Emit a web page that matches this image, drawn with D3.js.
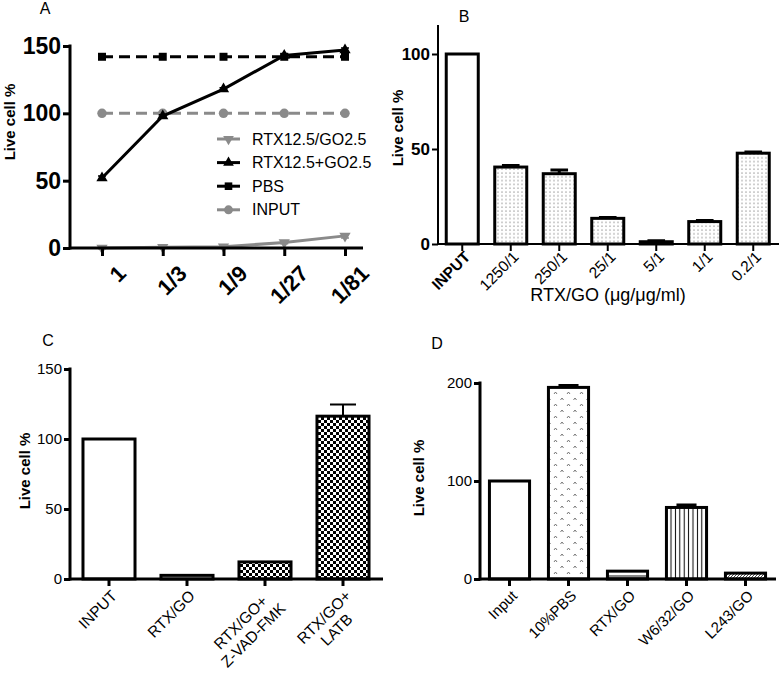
<!DOCTYPE html>
<html><head><meta charset="utf-8">
<script src="https://cdn.jsdelivr.net/npm/d3@7"></script>
<style>body{margin:0;background:#fff} text{font-family:"Liberation Sans",Arial,Helvetica,sans-serif;fill:#000}</style>
</head><body><svg id="c" width="779" height="674"></svg>
<script>
// ---------- Panel A data ----------
const aDilutions = ["1","1/3","1/9","1/27","1/81"];
const aSeriesNames = ["RTX12.5/GO2.5","RTX12.5+GO2.5","PBS","INPUT"];
const aRtxSlashGo = [0,0.5,1,4,9];
const aRtxSlashGoErr = [0.5,0.3,0.5,0.8,1.5];
const aRtxPlusGo = [52,98,118,143,147];
const aRtxPlusGoErr = [1.5,1,1,1,1.5];
const aPbs = [142,142,142,142,142];
const aInput = [100,100,100,100,100];
const aYTicks = [0,50,100,150];

// ---------- Panel B data ----------
const bCategories = ["INPUT","1250/1","250/1","25/1","5/1","1/1","0.2/1"];
const bValues = [100,40.5,37,13.5,1.2,11.8,47.8];
const bErrors = [0,0.8,2,0.4,0.5,0.6,0.6];
const bYTicks = [0,50,100];

// ---------- Panel C data ----------
const cCategories = [["INPUT"],["RTX/GO"],["RTX/GO+","Z-VAD-FMK"],["RTX/GO+","LATB"]];
const cValues = [100,2.6,12.2,116.3];
const cErrors = [0,0,0,8.4];
const cYTicks = [0,50,100,150];

// ---------- Panel D data ----------
const dCategories = ["Input","10%PBS","RTX/GO","W6/32/GO","L243/GO"];
const dValues = [100,195.5,8,73,6];
const dErrors = [0,2,0,2.5,0];
const dYTicks = [0,100,200];

const svg = d3.select("#c");
const defs = svg.append("defs");

// patterns
const pDots = defs.append("pattern").attr("id","dots").attr("patternUnits","userSpaceOnUse").attr("width",4).attr("height",3.8);
pDots.append("rect").attr("width",4).attr("height",3.8).attr("fill","#fff");
pDots.append("rect").attr("x",1.5).attr("y",1.5).attr("width",1).attr("height",1).attr("fill","#555");

const pChk = defs.append("pattern").attr("id","checker").attr("patternUnits","userSpaceOnUse").attr("width",6).attr("height",6);
pChk.append("rect").attr("width",6).attr("height",6).attr("fill","#fff");
pChk.append("rect").attr("width",3).attr("height",3).attr("fill","#000");
pChk.append("rect").attr("x",3).attr("y",3).attr("width",3).attr("height",3).attr("fill","#000");

const pCaret = defs.append("pattern").attr("id","caret").attr("patternUnits","userSpaceOnUse").attr("width",13).attr("height",12);
pCaret.append("rect").attr("width",13).attr("height",12).attr("fill","#fff");
pCaret.append("path").attr("d","M1.5,4 L3,2 L4.5,4 M8,10 L9.5,8 L11,10").attr("stroke","#666").attr("stroke-width",0.9).attr("fill","none");

const pVert = defs.append("pattern").attr("id","vlines").attr("patternUnits","userSpaceOnUse").attr("width",4.4).attr("height",4);
pVert.append("rect").attr("width",4.4).attr("height",4).attr("fill","#fff");
pVert.append("rect").attr("x",1.7).attr("width",1).attr("height",4).attr("fill","#000");

const pDiag = defs.append("pattern").attr("id","diag").attr("patternUnits","userSpaceOnUse").attr("width",3).attr("height",3);
pDiag.append("rect").attr("width",3).attr("height",3).attr("fill","#fff");
pDiag.append("path").attr("d","M0,3 L3,0 M-1,1 L1,-1 M2,4 L4,2").attr("stroke","#333").attr("stroke-width",0.9);

const gGrad = defs.append("linearGradient").attr("id","halfgray").attr("x1",0).attr("y1",0).attr("x2",0).attr("y2",1);
gGrad.append("stop").attr("offset","0%").attr("stop-color","#fff");
gGrad.append("stop").attr("offset","45%").attr("stop-color","#fff");
gGrad.append("stop").attr("offset","55%").attr("stop-color","#888");
gGrad.append("stop").attr("offset","100%").attr("stop-color","#888");

function styleAxis(g, width, fontSize, weight){
  g.selectAll(".domain").remove();
  g.selectAll(".tick line").attr("stroke","#000").attr("stroke-width",width);
  g.selectAll(".tick text").attr("font-size",fontSize).attr("font-weight",weight).attr("fill","#000");
}

function yLabel(x, y, size){
  svg.append("text").attr("transform",`translate(${x},${y}) rotate(-90)`)
    .attr("text-anchor","middle").attr("dy","0.35em").attr("font-size",size).attr("font-weight","bold").text("Live cell %");
}
function title(x,y,t){
  svg.append("text").attr("x",x).attr("y",y).attr("text-anchor","middle").attr("dy","0.35em").attr("font-size",16).text(t);
}

// ================= Panel A =================
{
  const x0 = 70, x1 = 363, yb = 248;
  const y = d3.scaleLinear().domain([0,150]).range([248,46]);
  const x = d3.scalePoint().domain(aDilutions).range([102,345]);
  const g = svg.append("g");
  const lineGen = d3.line().x((d,i)=>x(aDilutions[i])).y(d=>y(d));
  const series = [
    {name:aSeriesNames[3], vals:aInput, err:null, color:"#8a8a8a", dash:"11,6", sym:d3.symbolCircle, size:70, rot:0},
    {name:aSeriesNames[2], vals:aPbs, err:null, color:"#000", dash:"11,6", sym:d3.symbolSquare, size:64, rot:0},
    {name:aSeriesNames[0], vals:aRtxSlashGo, err:aRtxSlashGoErr, color:"#8a8a8a", dash:null, sym:d3.symbolTriangle, size:55, rot:180},
    {name:aSeriesNames[1], vals:aRtxPlusGo, err:aRtxPlusGoErr, color:"#000", dash:null, sym:d3.symbolTriangle, size:55, rot:0}
  ];
  series.forEach(s=>{
    g.append("path").datum(s.vals).attr("d",lineGen).attr("fill","none").attr("stroke",s.color)
      .attr("stroke-width",3).attr("stroke-dasharray",s.dash);
    if(s.err){
      g.selectAll(null).data(s.vals).enter().append("path")
        .attr("d",(d,i)=>{const cx=x(aDilutions[i]);return `M${cx},${y(d+s.err[i])}V${y(d-s.err[i])}M${cx-4},${y(d+s.err[i])}H${cx+4}M${cx-4},${y(d-s.err[i])}H${cx+4}`;})
        .attr("stroke",s.color).attr("stroke-width",1.5);
    }
    g.selectAll(null).data(s.vals).enter().append("path")
      .attr("d",d3.symbol().type(s.sym).size(s.size))
      .attr("transform",(d,i)=>`translate(${x(aDilutions[i])},${y(d)}) rotate(${s.rot})`)
      .attr("fill",s.color);
  });
  // axes
  const ya = g.append("g").attr("transform",`translate(${x0},0)`).call(d3.axisLeft(y).tickValues(aYTicks).tickSize(7).tickPadding(2));
  styleAxis(ya,3,23,"bold");
  const xa = g.append("g").attr("transform",`translate(0,${yb})`).call(d3.axisBottom(x).tickSize(8));
  styleAxis(xa,3,22,"bold");
  xa.selectAll(".tick text").attr("text-anchor","end").attr("transform","translate(6,8) rotate(-45)").attr("dy","0.71em");
  g.append("line").attr("x1",x0).attr("x2",x0).attr("y1",y(150)-1.5).attr("y2",yb+1.5).attr("stroke","#000").attr("stroke-width",3);
  g.append("line").attr("x1",x0).attr("x2",x1).attr("y1",yb).attr("y2",yb).attr("stroke","#000").attr("stroke-width",3);
  // legend
  const legOrder = [series[2],series[3],series[1],series[0]];
  legOrder.forEach((s,i)=>{
    const ly = 139 + i*23.6;
    g.append("line").attr("x1",217).attr("x2",240).attr("y1",ly).attr("y2",ly).attr("stroke",s.color).attr("stroke-width",3);
    g.append("path").attr("d",d3.symbol().type(s.sym).size(s.size*0.9)).attr("transform",`translate(228.5,${ly}) rotate(${s.rot})`).attr("fill",s.color);
    g.append("text").attr("x",252).attr("y",ly).attr("dy","0.35em").attr("font-size",16).text(s.name);
  });
  yLabel(10,122,15);
  title(45,8,"A");
}

// generic bar panel
function barPanel(cfg){
  const g = svg.append("g");
  const y = d3.scaleLinear().domain(cfg.yDomain).range(cfg.yRange);
  const x = d3.scaleBand().domain(cfg.cats.map((c,i)=>i)).range(cfg.xRange).paddingInner(cfg.pad).paddingOuter(cfg.pad/2);
  g.selectAll(null).data(cfg.vals).enter().append("rect")
    .attr("x",(d,i)=>x(i)).attr("width",x.bandwidth())
    .attr("y",d=>y(d)).attr("height",d=>y(0)-y(d))
    .attr("fill",(d,i)=>cfg.fills[i]).attr("stroke","#000").attr("stroke-width",cfg.barStroke);
  // error bars
  cfg.vals.forEach((d,idx)=>{
    if(!(cfg.errs[idx]>0)) return;
    const cx = x(idx)+x.bandwidth()/2, w = x.bandwidth()*cfg.capFrac/2;
    const top = y(d+cfg.errs[idx]);
    g.append("path").attr("d",`M${cx},${y(d)}V${top}M${cx-w},${top}H${cx+w}`)
      .attr("stroke","#000").attr("stroke-width",cfg.errStroke).attr("fill","none");
  });
  // y axis
  const ya = g.append("g").attr("transform",`translate(${cfg.xRange[0]},0)`).call(d3.axisLeft(y).tickValues(cfg.yTicks).tickSize(6).tickPadding(2));
  styleAxis(ya,cfg.axisStroke,cfg.yFont,cfg.yWeight);
  g.append("line").attr("x1",cfg.xRange[0]).attr("x2",cfg.xRange[0]).attr("y1",cfg.yTop).attr("y2",y(0)+cfg.axisStroke/2).attr("stroke","#000").attr("stroke-width",cfg.axisStroke);
  g.append("line").attr("x1",cfg.xRange[0]).attr("x2",cfg.xEnd).attr("y1",y(0)).attr("y2",y(0)).attr("stroke","#000").attr("stroke-width",cfg.axisStroke);
  // x ticks
  g.selectAll(null).data(cfg.cats).enter().append("line")
    .attr("x1",(d,i)=>x(i)+x.bandwidth()/2).attr("x2",(d,i)=>x(i)+x.bandwidth()/2)
    .attr("y1",y(0)).attr("y2",y(0)+cfg.xTick).attr("stroke","#000").attr("stroke-width",cfg.axisStroke);
  // x labels
  cfg.cats.forEach((c,i)=>{
    const lines = Array.isArray(c)?c:[c];
    const cx = x(i)+x.bandwidth()/2;
    const t = g.append("g").attr("transform",`translate(${cx+cfg.lblDx},${y(0)+cfg.lblDy}) rotate(-45)`);
    const txt = t.append("text").attr("font-size",cfg.xFont).attr("font-weight",cfg.xWeight?cfg.xWeight(i):"normal");
    if(lines.length===1){
      txt.attr("text-anchor","end").attr("dy","0.35em").text(lines[0]);
    } else {
      const spans = lines.map((l,k)=>txt.append("tspan").attr("x",0).attr("y",k*cfg.xFont*1.15).attr("dy","0.35em").text(l));
      const widths = spans.map(s=>s.node().getComputedTextLength());
      const wmax = d3.max(widths);
      txt.attr("text-anchor","middle");
      spans.forEach(s=>s.attr("x",-wmax/2));
    }
  });
  return {g,x,y};
}

// ================= Panel B =================
barPanel({
  cats:bCategories, vals:bValues, errs:bErrors,
  fills:bCategories.map((c,i)=>i===0?"#fff":"url(#dots)"),
  yDomain:[0,100], yRange:[244,54], yTop:25, yTicks:bYTicks,
  xRange:[438,777.5], xEnd:779, pad:0.34, barStroke:3, capFrac:0.55, errStroke:3,
  axisStroke:2, yFont:17, yWeight:"bold", xTick:7,
  xFont:15.5, xWeight:i=>i===0?"bold":"normal", lblDx:5, lblDy:10
});
svg.append("text").attr("x",608).attr("y",295).attr("text-anchor","middle").attr("dy","0.35em").attr("font-size",18).text("RTX/GO (\u03bcg/\u03bcg/ml)");
yLabel(398,128,15);
title(464,16,"B");

// ================= Panel C =================
barPanel({
  cats:cCategories, vals:cValues, errs:cErrors,
  fills:["#fff","#fff","url(#checker)","url(#checker)"],
  yDomain:[0,150], yRange:[579,369], yTop:369-1.5, yTicks:cYTicks,
  xRange:[70,382], xEnd:383, pad:0.333, barStroke:3, capFrac:0.5, errStroke:2,
  axisStroke:3, yFont:15, yWeight:"normal", xTick:7,
  xFont:15.5, lblDx:5, lblDy:14
});
yLabel(25,471,15);
title(48,340,"C");

// ================= Panel D =================
barPanel({
  cats:dCategories, vals:dValues, errs:dErrors,
  fills:["#fff","url(#caret)","url(#halfgray)","url(#vlines)","url(#diag)"],
  yDomain:[0,200], yRange:[579,383], yTop:383-1.5, yTicks:dYTicks,
  xRange:[480,775], xEnd:776, pad:0.32, barStroke:3, capFrac:0.5, errStroke:3,
  axisStroke:3, yFont:15, yWeight:"normal", xTick:7,
  xFont:15, lblDx:5, lblDy:14
});
yLabel(419,478,15);
title(437,343,"D");
</script></body></html>
